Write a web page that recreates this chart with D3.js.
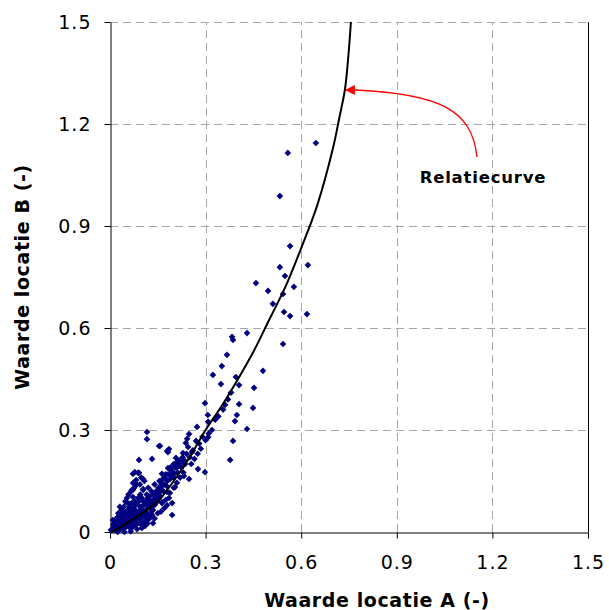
<!DOCTYPE html>
<html>
<head>
<meta charset="utf-8">
<script src="https://cdn.jsdelivr.net/npm/d3@7"></script>
<style>
  html, body { margin: 0; padding: 0; background: #fff; }
  svg { display: block; font-family: "DejaVu Sans", Verdana, sans-serif; }
</style>
</head>
<body>
<div id="chart"></div>
<script>
// measured points: [waarde locatie A, waarde locatie B]
const measured = [
  [0.646,1.144],[0.558,1.115],[0.533,0.988],[0.565,0.841],[0.621,0.785],[0.549,0.753],[0.458,0.732],
  [0.533,0.779],[0.496,0.709],[0.543,0.700],[0.577,0.721],[0.511,0.671],[0.546,0.647],[0.565,0.635],
  [0.618,0.641],[0.383,0.574],[0.386,0.565],[0.430,0.585],[0.543,0.553],[0.367,0.521],[0.351,0.488],
  [0.323,0.462],[0.348,0.435],[0.395,0.456],[0.405,0.432],[0.480,0.474],[0.452,0.424],
  [0.298,0.379],[0.361,0.374],[0.405,0.376],[0.449,0.365],[0.307,0.344],[0.398,0.344],[0.308,0.324],
  [0.392,0.326],[0.273,0.309],[0.430,0.303],[0.116,0.294],[0.116,0.273],[0.248,0.288],[0.242,0.274],
  [0.308,0.279],[0.270,0.268],[0.238,0.262],[0.154,0.253],[0.386,0.268],[0.185,0.244],[0.179,0.238],
  [0.245,0.250],[0.229,0.232],[0.257,0.235],[0.377,0.212],[0.091,0.212],[0.132,0.215],[0.207,0.218],
  [0.210,0.206],[0.235,0.209],[0.276,0.185],[0.298,0.176],[0.182,0.188],[0.198,0.176],[0.191,0.165],
  [0.072,0.171],[0.078,0.176],[0.091,0.174],[0.104,0.156],[0.232,0.165],[0.248,0.156],[0.163,0.171],
  [0.072,0.144],[0.069,0.124],[0.104,0.126],[0.204,0.132],[0.179,0.118],[0.157,0.118],[0.195,0.085],
  [0.163,0.085],[0.135,0.094],[0.053,0.100],[0.060,0.082],[0.132,0.050],[0.110,0.018],[0.094,0.026],
  [0.157,0.253],[0.182,0.235],[0.088,0.174],[0.082,0.153],[0.072,0.124],[0.104,0.124],[0.072,0.103],
  [0.053,0.088],[0.031,0.074],[0.063,0.074],[0.094,0.074],[0.126,0.074],[0.119,0.100],[0.147,0.100],
  [0.135,0.065],[0.163,0.088],[0.179,0.079],[0.188,0.115],[0.195,0.050],[0.009,0.035],[0.025,0.044],
  [0.041,0.050],[0.053,0.029],[0.072,0.035],[0.094,0.029],[0.116,0.035],[0.135,0.026],[0.100,0.012],
  [0.063,0.012],[0.031,0.012],[0.016,0.012],[0.003,0.006],
  [0.02,0.02],[0.03,0.03],[0.04,0.02],[0.05,0.04],[0.06,0.05],[0.07,0.06],[0.08,0.05],[0.09,0.06],
  [0.10,0.05],[0.11,0.06],[0.12,0.08],[0.14,0.09],[0.15,0.11],[0.16,0.13],[0.17,0.14],[0.18,0.15],
  [0.20,0.17],[0.21,0.19],[0.22,0.20],[0.23,0.21],[0.25,0.22],[0.26,0.24],[0.28,0.26],[0.29,0.28],
  [0.13,0.12],[0.14,0.14],[0.12,0.13],[0.10,0.10],[0.09,0.09],[0.08,0.08],[0.06,0.07],[0.05,0.06],
  [0.04,0.06],[0.03,0.05],[0.02,0.04],[0.01,0.02],[0.015,0.005],[0.025,0.003],[0.04,0.008],[0.05,0.015],
  [0.06,0.02],[0.07,0.025],[0.08,0.02],[0.085,0.04],[0.09,0.045],[0.11,0.045],[0.12,0.05],[0.13,0.06],
  [0.045,0.035],[0.035,0.02],[0.055,0.055],[0.065,0.045],[0.075,0.07],[0.085,0.085],[0.095,0.11],
  [0.105,0.09],[0.115,0.11],[0.125,0.105],[0.145,0.12],[0.155,0.15],[0.165,0.155],[0.175,0.17],
  [0.19,0.19],[0.20,0.20],[0.215,0.2],
  [0.01,0.01],[0.012,0.025],[0.018,0.008],[0.022,0.016],[0.028,0.01],[0.033,0.04],[0.038,0.028],
  [0.042,0.015],[0.047,0.045],[0.052,0.022],[0.056,0.035],[0.058,0.065],[0.062,0.03],[0.066,0.055],
  [0.068,0.085],[0.071,0.015],[0.074,0.048],[0.077,0.09],[0.079,0.035],[0.082,0.062],[0.086,0.025],
  [0.088,0.1],[0.091,0.055],[0.096,0.04],[0.098,0.075],[0.102,0.065],[0.106,0.03],[0.108,0.08],
  [0.112,0.09],[0.114,0.055],[0.118,0.07],[0.122,0.095],[0.124,0.04],[0.128,0.085],[0.132,0.075],
  [0.137,0.11],[0.141,0.08],[0.143,0.1],[0.148,0.09],[0.152,0.13],[0.158,0.105],[0.162,0.14],
  [0.168,0.12],[0.172,0.16],[0.178,0.135],[0.183,0.17],[0.188,0.155],[0.193,0.18],[0.2,0.16],
  [0.205,0.19],[0.212,0.175],[0.218,0.21],[0.224,0.19],[0.228,0.22],[0.236,0.2],[0.24,0.23],
  [0.018,0.03],[0.026,0.055],[0.036,0.065],[0.044,0.075],[0.048,0.09],[0.058,0.11],[0.066,0.12],
  [0.076,0.13],[0.084,0.14],[0.094,0.14],[0.098,0.16],[0.108,0.15],[0.024,0.0],[0.045,0.0],
  [0.065,0.002],[0.085,0.008],[0.1,0.02],[0.118,0.025],[0.14,0.04],[0.15,0.055],[0.16,0.06],
  [0.17,0.07],[0.175,0.095],[0.185,0.1],[0.2,0.13],[0.21,0.145],[0.22,0.16],[0.23,0.175],
  [0.255,0.2],[0.265,0.215],[0.275,0.23],[0.285,0.245],[0.3,0.27],[0.31,0.29],[0.32,0.3],
  [0.33,0.33],[0.34,0.34],[0.355,0.36],[0.37,0.39],[0.38,0.41]
];

// relatiecurve
const curveA = [0.005, 0.03, 0.06, 0.10, 0.15, 0.20, 0.25, 0.30, 0.35, 0.40, 0.45, 0.50, 0.55, 0.60, 0.65, 0.70, 0.72, 0.737, 0.748, 0.756];
const curveB = [0.00, 0.012, 0.03, 0.055, 0.09, 0.15, 0.22, 0.30, 0.37, 0.447, 0.53, 0.625, 0.72, 0.835, 0.96, 1.13, 1.22, 1.30, 1.40, 1.50];

const tickValues = [0, 0.3, 0.6, 0.9, 1.2, 1.5];
const xLabel = 'Waarde locatie A (-)';
const yLabel = 'Waarde locatie B (-)';
const annotation = 'Relatiecurve';
const annotationAt = [0.737, 1.30];

const width = 609, height = 610;
const margin = { left: 110, right: 21, top: 22, bottom: 78 };

const svg = d3.select('#chart').append('svg')
  .attr('width', width)
  .attr('height', height);

const x = d3.scaleLinear().domain([0, 1.5]).range([margin.left, width - margin.right]);
const y = d3.scaleLinear().domain([0, 1.5]).range([height - margin.bottom, margin.top]);

const fmt = d => d === 0 ? '0' : d3.format('.1f')(d);

// grid
const grid = svg.append('g');
grid.selectAll('.hg').data(tickValues.filter(d => d > 0))
  .enter().append('line')
  .attr('x1', x(0)).attr('x2', x(1.5))
  .attr('y1', d => Math.round(y(d)) + 0.5).attr('y2', d => Math.round(y(d)) + 0.5)
  .attr('stroke', '#a6a6a6').attr('stroke-dasharray', '8,5');
grid.selectAll('.vg').data(tickValues.filter(d => d > 0 && d < 1.5))
  .enter().append('line')
  .attr('y1', y(0)).attr('y2', y(1.5))
  .attr('x1', d => Math.round(x(d)) + 0.5).attr('x2', d => Math.round(x(d)) + 0.5)
  .attr('stroke', '#a6a6a6').attr('stroke-dasharray', '8,5');

// right border
svg.append('line')
  .attr('x1', Math.round(x(1.5)) + 0.5).attr('x2', Math.round(x(1.5)) + 0.5)
  .attr('y1', y(1.5)).attr('y2', y(0))
  .attr('stroke', '#000');

// axes
const xAxis = svg.append('g')
  .attr('transform', `translate(0,${Math.round(y(0)) + 0.5})`)
  .call(d3.axisBottom(x).tickValues(tickValues).tickFormat(fmt).tickSize(6).tickSizeOuter(0).tickPadding(17));
const yAxis = svg.append('g')
  .attr('transform', `translate(${Math.round(x(0)) + 0.5},0)`)
  .call(d3.axisLeft(y).tickValues(tickValues).tickFormat(fmt).tickSize(6).tickSizeOuter(0).tickPadding(13));

[xAxis, yAxis].forEach(a => {
  a.select('.domain').attr('stroke', '#000');
  a.selectAll('text').attr('font-size', 19).attr('fill', '#000')
    .attr('letter-spacing', 1)
    .attr('font-family', '"DejaVu Sans", Verdana, sans-serif');
});
xAxis.selectAll('.tick line').attr('stroke', '#000');
yAxis.selectAll('.tick line').attr('stroke', '#000');

// points
svg.append('g').selectAll('path')
  .data(measured)
  .enter().append('path')
  .attr('d', d3.symbol().type(d3.symbolSquare).size(22))
  .attr('transform', d => `translate(${x(d[0])},${y(d[1])}) rotate(45)`)
  .attr('fill', '#000080');

// relatiecurve
const curvePts = curveA.map((a, i) => [a, curveB[i]]);
svg.append('path')
  .datum(curvePts)
  .attr('d', d3.line().x(d => x(d[0])).y(d => y(d[1])).curve(d3.curveCatmullRom.alpha(0.5)))
  .attr('fill', 'none')
  .attr('stroke', '#000')
  .attr('stroke-width', 2);

// annotation arrow
svg.append('defs').append('marker')
  .attr('id', 'arrow')
  .attr('viewBox', '0 0 10 10')
  .attr('refX', 9).attr('refY', 5)
  .attr('markerWidth', 10).attr('markerHeight', 10)
  .attr('markerUnits', 'userSpaceOnUse')
  .attr('orient', 'auto')
  .append('path')
  .attr('d', 'M0,0 L10,5 L0,10 Z')
  .attr('fill', '#ff0000');

const tip = [x(annotationAt[0]) + 1, y(annotationAt[1])];
svg.append('path')
  .attr('d', `M477,157 C472,110 440,94 ${tip[0] + 10},${tip[1]} L${tip[0]},${tip[1]}`)
  .attr('fill', 'none')
  .attr('stroke', '#ff0000')
  .attr('stroke-width', 1.3)
  .attr('marker-end', 'url(#arrow)');

svg.append('text')
  .attr('x', 483).attr('y', 183)
  .attr('text-anchor', 'middle')
  .attr('font-size', 16.5)
  .attr('font-weight', 'bold')
  .attr('letter-spacing', 0.8)
  .text(annotation);

// axis titles
svg.append('text')
  .attr('x', 377).attr('y', 607)
  .attr('text-anchor', 'middle')
  .attr('font-size', 19)
  .attr('font-weight', 'bold')
  .attr('letter-spacing', 0.6)
  .text(xLabel);

svg.append('text')
  .attr('transform', `translate(29,${(y(0) + y(1.5)) / 2}) rotate(-90)`)
  .attr('text-anchor', 'middle')
  .attr('font-size', 19)
  .attr('font-weight', 'bold')
  .attr('letter-spacing', 0.6)
  .text(yLabel);
</script>
</body>
</html>
